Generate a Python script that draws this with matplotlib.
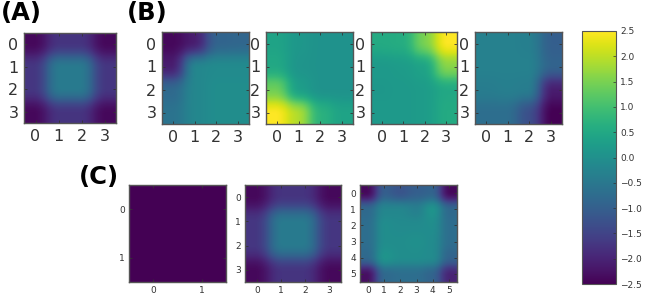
import numpy as np
from matplotlib import pyplot as plt
from matplotlib import cm, colors

W, H = 654, 301

# grid values
grid_a = [[-2.4, -1.75, -1.75, -2.4],
          [-1.7, -0.45, -0.45, -1.7],
          [-1.7, -0.45, -0.45, -1.7],
          [-2.4, -1.75, -1.75, -2.4]]
grid_b1 = [[-2.4, -2.1, -0.9, -0.85],
           [-2.1, -0.2, -0.1, -0.1],
           [-0.8, -0.2, -0.05, -0.05],
           [-0.6, -0.2, -0.05, -0.05]]
grid_b2 = [[0.4, 0.15, 0.05, 0.05],
           [0.5, 0.1, 0.05, 0.05],
           [1.4, 0.3, 0.05, 0.05],
           [2.5, 1.9, 0.7, 0.4]]
grid_b3 = [[0.55, 0.6, 1.5, 2.5],
           [0.2, 0.25, 0.4, 1.6],
           [0.15, 0.2, 0.25, 0.5],
           [0.2, 0.2, 0.25, 0.55]]
grid_b4 = [[-0.3, -0.3, -0.35, -1.0],
           [-0.3, -0.3, -0.3, -0.9],
           [-0.4, -0.35, -0.4, -2.1],
           [-0.7, -0.7, -1.3, -2.5]]
grid_c1 = [[-2.5, -2.5],
           [-2.5, -2.5]]
grid_c3 = [[-2.4, -1.0, -1.2, -1.0, -0.9, -2.4],
           [-0.8, -0.2, -0.2, -0.35, 0.1, -0.8],
           [-0.7, -0.05, -0.1, -0.1, -0.05, -0.7],
           [-0.7, -0.05, -0.05, 0.0, -0.1, -0.7],
           [-0.8, 0.1, -0.05, -0.05, -0.1, -0.9],
           [-2.3, -0.8, -0.7, -0.7, -0.9, -2.0]]

cbar_ticks = [-2.5, -2.0, -1.5, -1.0, -0.5, 0.0, 0.5, 1.0, 1.5, 2.0, 2.5]
panel_labels = ["(A)", "(B)", "(C)"]

norm = colors.Normalize(-2.5, 2.5)

fig = plt.figure(figsize=(W / 100, H / 100), dpi=100)


def box(x0, y0, x1, y1):
    return [x0 / W, 1 - y1 / H, (x1 - x0) / W, (y1 - y0) / H]


def soften(grid, rep=24, width=15):
    # blocks with blurred edges, the reference keeps flat plateaus in each cell
    a = np.repeat(np.repeat(np.array(grid, dtype=float), rep, axis=0), rep, axis=1)
    kernel = np.ones(width) / width
    for axis in (0, 1):
        for _ in range(2):
            pad = [(width, width) if i == axis else (0, 0) for i in (0, 1)]
            a = np.apply_along_axis(np.convolve, axis, np.pad(a, pad, mode="edge"),
                                    kernel, mode="same")
            a = a[width:-width] if axis == 0 else a[:, width:-width]
    return a


def panel(grid, rect, size, pad):
    ax = fig.add_axes(box(*rect))
    n = len(grid)
    ax.imshow(soften(grid), cmap="viridis", norm=norm, interpolation="bilinear",
              aspect="auto", extent=(-0.5, n - 0.5, n - 0.5, -0.5))
    ax.set_xticks(range(n))
    ax.set_yticks(range(n))
    ax.tick_params(labelsize=size, colors="#333333", length=2.5, width=0.6,
                   direction="in", top=True, right=True, pad=pad)
    for s in ax.spines.values():
        s.set_linewidth(1.0)
        s.set_color("#555555")
    return ax


panel(grid_a, (24, 33, 116, 123), 11.5, 4)
panel(grid_b1, (162, 32, 249, 124), 11.5, 4)
panel(grid_b2, (266, 32, 353, 124), 11.5, 4)
panel(grid_b3, (371, 32, 457, 124), 11.5, 4)
panel(grid_b4, (475, 32, 562, 124), 11.5, 4)

panel(grid_c1, (129, 185, 226, 282), 6.5, 3)
panel(grid_a, (245, 185, 341, 282), 6.5, 3)
panel(grid_c3, (360, 185, 457, 282), 6.5, 3)

cax = fig.add_axes(box(582, 31, 616, 284))
sm = cm.ScalarMappable(norm=norm, cmap="viridis")
cb = fig.colorbar(sm, cax=cax, ticks=cbar_ticks)
cb.ax.tick_params(labelsize=6.5, colors="#333333", length=2, width=0.5, direction="in", pad=3)
cb.outline.set_linewidth(0.8)
cb.outline.set_edgecolor("#555555")

for lab, x, y in zip(panel_labels, [1, 127, 79], [13, 13, 177]):
    fig.text(x / W, 1 - y / H, lab, fontsize=17.5, fontweight="bold", color="black",
             ha="left", va="center")

fig.savefig("out.png", dpi=100)
